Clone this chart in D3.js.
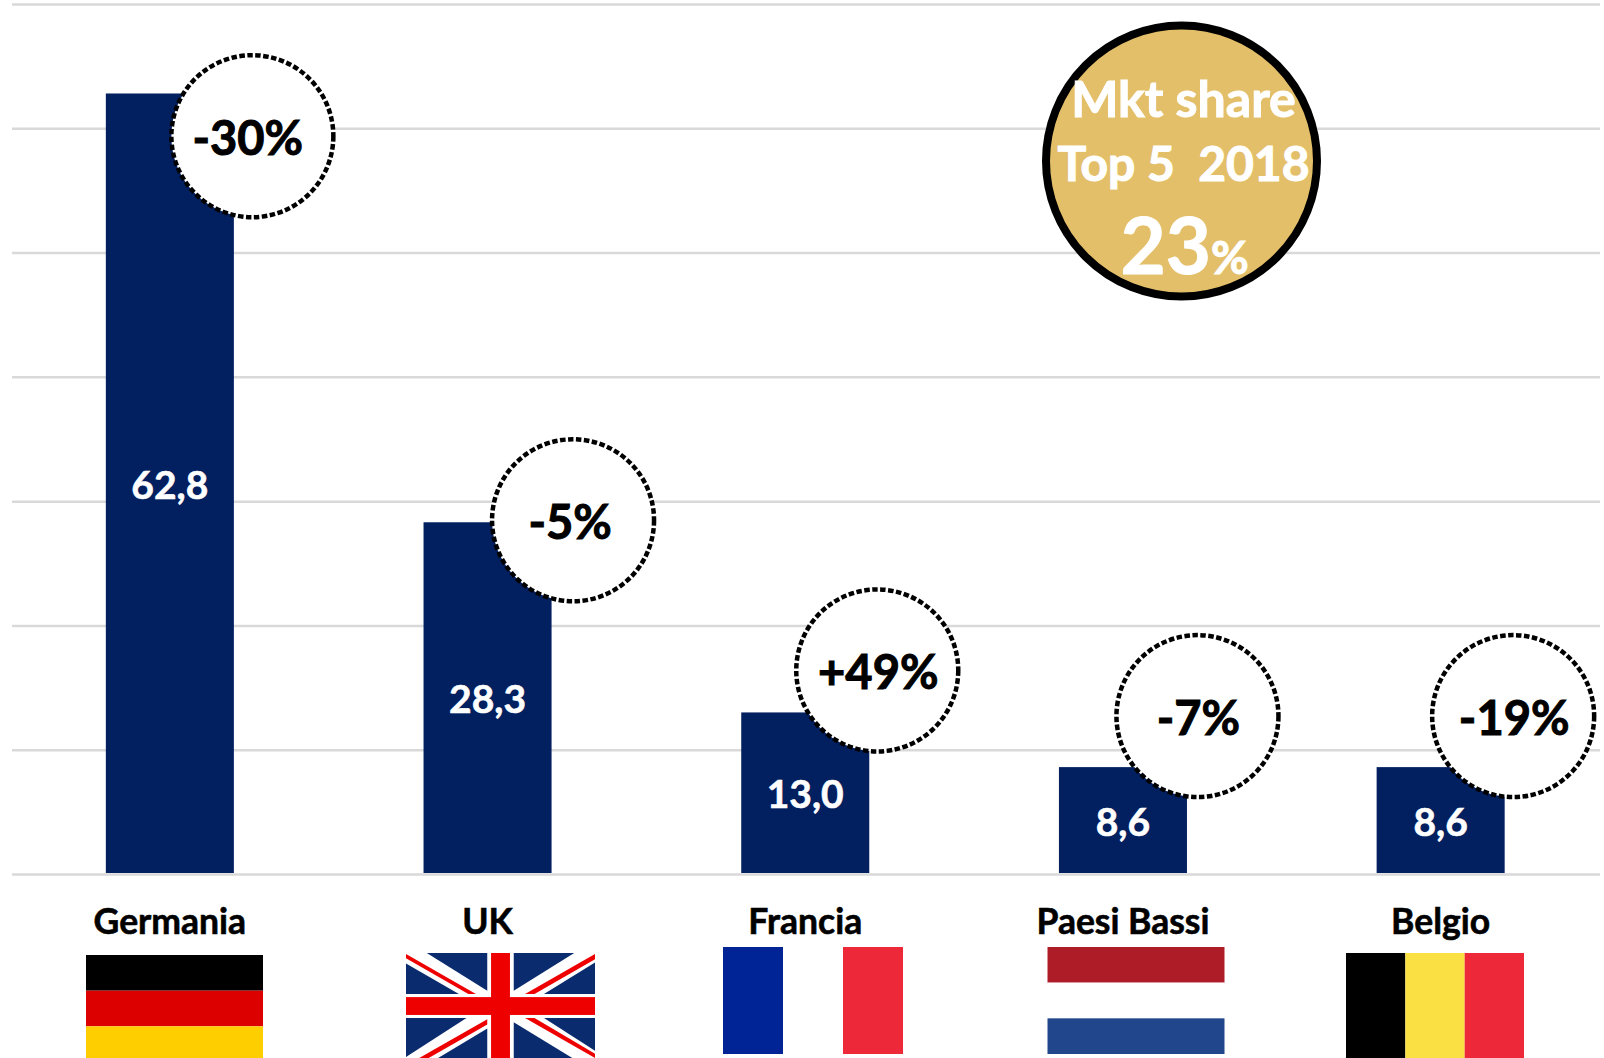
<!DOCTYPE html>
<html>

<head>
    <meta charset="utf-8">
    <title>Mkt share Top 5 2018</title>
    <script src="https://d3js.org/d3.v7.min.js" charset="utf-8"></script>
    <style type="text/css">
        html, body {
            margin: 0;
            padding: 0;
            background: #fff;
            overflow: hidden;
        }

        svg {
            display: block;
        }

        text {
            font-family: Lato, "Open Sans", sans-serif;
            font-weight: 700;
        }

        .grid line {
            stroke: #d9d9d9;
            stroke-width: 2.5px;
        }

        .grid path,
        .x.axis path {
            display: none;
        }

        .x.axis text {
            font-size: 35.5px;
            font-weight: 700;
            fill: #000;
            stroke: #000;
            stroke-width: 0.6px;
            font-family: Lato, sans-serif;
        }

        .bar {
            fill: #02205f;
        }

        .value {
            fill: #fff;
            stroke: #fff;
            stroke-width: 0.6px;
            font-size: 39px;
            text-anchor: middle;
            dominant-baseline: central;
        }

        .callout circle {
            fill: #fff;
            stroke: #000;
            stroke-width: 4.5px;
            stroke-dasharray: 5.5 2.5;
        }

        .callout text {
            font-size: 47px;
            text-anchor: middle;
            fill: #000;
            stroke: #000;
            stroke-width: 1px;
        }

        .share text {
            fill: #fff;
            stroke: #fff;
            stroke-width: 1px;
            text-anchor: middle;
        }
    </style>
</head>

<body>
    <script type="text/javascript">
        var categories = ["Germania", "UK", "Francia", "Paesi Bassi", "Belgio"];
        var values = [62.8, 28.3, 13.0, 8.6, 8.6];
        var changes = ["-30%", "-5%", "+49%", "-7%", "-19%"];
        var gridTicks = [0, 10, 20, 30, 40, 50, 60, 70];
        var shareLines = ["Mkt share", "Top 5  2018"];
        var shareValue = "23";

        var width = 1604,
            height = 1058,
            margin = { left: 12, right: 4, top: 4, bottom: 184 };

        var svg = d3.select("body").append("svg")
            .attr("width", width)
            .attr("height", height);

        var x = d3.scaleBand()
            .domain(categories)
            .range([11, 1599.5])
            .paddingInner(0.597)
            .paddingOuter(0.2985);

        var y = d3.scaleLinear()
            .domain([0, 70])
            .range([height - margin.bottom, margin.top]);

        var comma = d3.formatLocale({ decimal: ",", thousands: ".", grouping: [3], currency: ["", "€"] }).format(".1f");

        // gridlines
        svg.append("g")
            .attr("class", "grid")
            .attr("transform", "translate(" + margin.left + ",0)")
            .call(d3.axisLeft(y)
                .tickValues(gridTicks)
                .tickSize(-(width - margin.left - margin.right))
                .tickFormat(""));

        // bars
        svg.selectAll(".bar")
            .data(values)
            .enter().append("rect")
            .attr("class", "bar")
            .attr("x", function (d, i) { return x(categories[i]); })
            .attr("y", function (d) { return y(d); })
            .attr("width", x.bandwidth())
            .attr("height", function (d) { return y(0) - y(d) - 1; });

        svg.selectAll(".value")
            .data(values)
            .enter().append("text")
            .attr("class", "value")
            .attr("x", function (d, i) { return x(categories[i]) + x.bandwidth() / 2; })
            .attr("y", function (d) { return (y(d) + y(0)) / 2; })
            .text(function (d) { return comma(d); });

        // category labels
        var xAxis = svg.append("g")
            .attr("class", "x axis")
            .attr("transform", "translate(0," + y(0) + ")")
            .call(d3.axisBottom(x).tickSize(0).tickPadding(30));
        xAxis.selectAll("text").attr("dy", "0.71em").attr("y", 35);

        // dashed bubbles, placed relative to the top of each bar
        var bubbleDx = [82.5, 85.5, 72, 74.5, 72.5];
        var bubbleDy = [42.7, -2, -42, -51, -51];
        var textDx = [-4.5, -3, 1, 1, 1];

        var callouts = svg.selectAll(".callout")
            .data(values)
            .enter().append("g")
            .attr("class", "callout")
            .attr("transform", function (d, i) {
                var cx = x(categories[i]) + x.bandwidth() / 2 + bubbleDx[i];
                return "translate(" + cx + "," + (y(d) + bubbleDy[i]) + ")";
            });

        callouts.append("circle").attr("r", 81);
        callouts.append("text")
            .attr("x", function (d, i) { return textDx[i]; })
            .attr("y", 18.5)
            .text(function (d, i) { return changes[i]; });

        // market share badge
        var share = svg.append("g")
            .attr("class", "share")
            .attr("transform", "translate(1181.5,161)");

        share.append("circle")
            .attr("r", 135.5)
            .attr("fill", "#e4bf6a")
            .attr("stroke", "#000")
            .attr("stroke-width", 8);

        share.selectAll(".line")
            .data(shareLines)
            .enter().append("text")
            .attr("class", "line")
            .attr("x", 2)
            .attr("y", function (d, i) { return i == 0 ? -44 : 20; })
            .attr("font-size", function (d, i) { return i == 0 ? 50 : 48; })
            .style("white-space", "pre")
            .text(function (d) { return d; });

        var pct = share.append("text")
            .attr("x", 3)
            .attr("y", 113)
            .attr("font-size", 78)
            .text(shareValue);
        pct.append("tspan")
            .attr("font-size", 46)
            .text("%");

        // flags
        var flags = svg.append("g").attr("class", "flags");

        function stripes(fx, fy, w, h, colors, vertical) {
            colors.forEach(function (c, i) {
                flags.append("rect")
                    .attr("x", vertical ? fx + i * w / colors.length : fx)
                    .attr("y", vertical ? fy : fy + i * h / colors.length)
                    .attr("width", vertical ? w / colors.length : w)
                    .attr("height", vertical ? h : h / colors.length)
                    .attr("fill", c);
            });
        }

        stripes(86, 955, 177, 107, ["#000000", "#dd0000", "#ffce00"], false);
        stripes(723, 947, 180, 107, ["#002395", "#ffffff", "#ed2939"], true);
        stripes(1047.5, 947, 177, 107, ["#ae1c28", "#ffffff", "#21468b"], false);
        stripes(1346, 953, 178, 107, ["#000000", "#fae042", "#ed2939"], true);

        // union jack, drawn on a 0-100 by 0-100 grid
        var ux = d3.scaleLinear().domain([0, 100]).range([406, 595]);
        var uy = d3.scaleLinear().domain([0, 100]).range([953, 1058]);

        var ukBlue = [
            [[11, 0], [43, 0], [43, 36], [11, 0]],
            [[0, 10], [0, 39], [28, 39]],
            [[57, 0], [89, 0], [57, 36]],
            [[100, 9], [100, 39], [73, 39]],
            [[0, 62], [32, 62], [0, 99]],
            [[43, 72], [43, 100], [17, 100]],
            [[57, 66], [57, 100], [88, 100]],
            [[73, 62], [100, 62], [100, 93]]
        ];
        var ukRed = [
            [[0, 1], [37, 39], [33, 39], [0, 5]],
            [[100, 1], [100, 6], [68, 39], [63, 39]],
            [[43, 63], [43, 68], [12, 100], [7, 100]],
            [[63, 62], [68, 62], [100, 96], [100, 100]]
        ];

        var ukFlag = flags.append("g");
        var toPoints = function (p) {
            return p.map(function (q) { return ux(q[0]) + "," + uy(q[1]); }).join(" ");
        };

        ukFlag.append("rect")
            .attr("x", ux(0)).attr("y", uy(0))
            .attr("width", ux(100) - ux(0)).attr("height", uy(100) - uy(0))
            .attr("fill", "#fff");
        ukBlue.forEach(function (p) {
            ukFlag.append("polygon").attr("points", toPoints(p)).attr("fill", "#0a2c6f");
        });
        ukRed.forEach(function (p) {
            ukFlag.append("polygon").attr("points", toPoints(p)).attr("fill", "#ee0000");
        });
        ukFlag.append("rect")
            .attr("x", ux(0)).attr("y", uy(42))
            .attr("width", ux(100) - ux(0)).attr("height", uy(59) - uy(42))
            .attr("fill", "#ee0000");
        ukFlag.append("rect")
            .attr("x", ux(45)).attr("y", uy(0))
            .attr("width", ux(55) - ux(45)).attr("height", uy(100) - uy(0))
            .attr("fill", "#ee0000");
    </script>
</body>

</html>
